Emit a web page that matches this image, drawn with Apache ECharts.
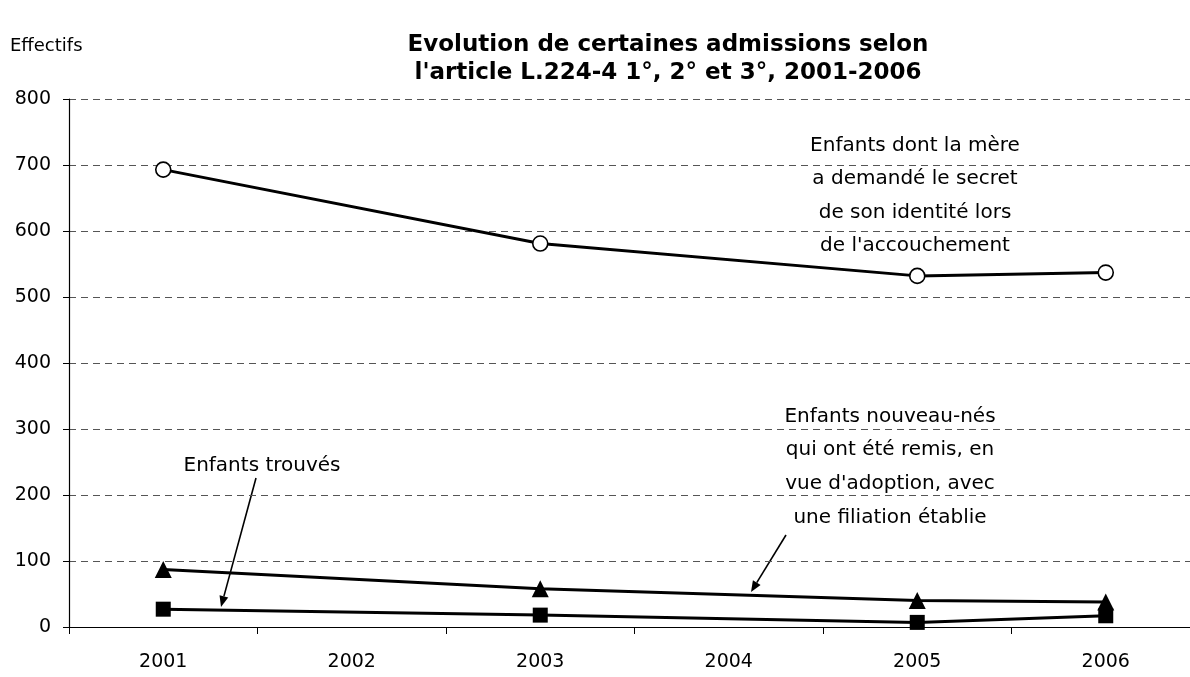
<!DOCTYPE html>
<html>
<head>
<meta charset="utf-8">
<script src="https://cdn.jsdelivr.net/npm/echarts@6/dist/echarts.min.js"></script>
<style>html,body{margin:0;padding:0;background:#fff;overflow:hidden;}#c{width:1200px;height:677px;}</style>
</head>
<body>
<div id="c"></div>
<script>
const categories = ['2001', '2002', '2003', '2004', '2005', '2006'];
const secretMere = [693, null, 581, null, 532, 537];
const nouveauNes = [87, null, 58, null, 40, 38];
const trouves = [27, null, 18, null, 7, 17];
const yTicks = { min: 0, max: 800, interval: 100 };

const titleLines = ["Evolution de certaines admissions selon", "l'article L.224-4 1°, 2° et 3°, 2001-2006"];
const yName = 'Effectifs';
const noteSecret = ["Enfants dont la mère", "a demandé le secret", "de son identité lors", "de l'accouchement"];
const noteNes = ["Enfants nouveau-nés", "qui ont été remis, en", "vue d'adoption, avec", "une filiation établie"];
const noteTrouves = ["Enfants trouvés"];

const FONT = "'Comic Sans MS', 'DejaVu Sans', sans-serif";

function arrow(x1, y1, x2, y2) {
  const ang = Math.atan2(y2 - y1, x2 - x1);
  const L = 11, W = 4.5;
  const bx = x2 - L * Math.cos(ang), by = y2 - L * Math.sin(ang);
  const px = -Math.sin(ang) * W, py = Math.cos(ang) * W;
  return [
    { type: 'line', shape: { x1: x1, y1: y1, x2: bx, y2: by }, style: { stroke: '#000', lineWidth: 1.6 } },
    { type: 'polygon', shape: { points: [[x2, y2], [bx + px, by + py], [bx - px, by - py]] }, style: { fill: '#000' } }
  ];
}

const chart = echarts.init(document.getElementById('c'), null, { renderer: 'canvas', width: 1200, height: 677 });
const option = {
  backgroundColor: '#fff',
  animation: false,
  grid: { left: 69, top: 99, width: 1131, height: 528, containLabel: false },
  xAxis: {
    type: 'category',
    data: categories,
    boundaryGap: true,
    axisLine: { show: true, lineStyle: { color: '#000', width: 1.2 } },
    axisTick: { show: true, length: 7, interval: 0, lineStyle: { color: '#000', width: 1 } },
    axisLabel: { color: '#000', fontSize: 19, fontFamily: FONT, margin: 26 },
    splitLine: { show: false }
  },
  yAxis: {
    type: 'value',
    min: yTicks.min, max: yTicks.max, interval: yTicks.interval,
    axisLine: { show: true, lineStyle: { color: '#000', width: 1.2 } },
    axisTick: { show: true, length: 6, lineStyle: { color: '#000' } },
    axisLabel: { color: '#000', fontSize: 19, fontFamily: FONT, margin: 18 },
    splitLine: { show: true, lineStyle: { color: '#555', width: 1, type: [7, 5] } }
  },
  series: [
    {
      type: 'line', data: secretMere, connectNulls: true,
      symbol: 'circle', symbolSize: 15, showSymbol: true,
      lineStyle: { color: '#000', width: 3 },
      itemStyle: { color: '#fff', borderColor: '#000', borderWidth: 1.6 },
      z: 3
    },
    {
      type: 'line', data: nouveauNes, connectNulls: true,
      symbol: 'triangle', symbolSize: 17,
      lineStyle: { color: '#000', width: 3 },
      itemStyle: { color: '#000' },
      z: 3
    },
    {
      type: 'line', data: trouves, connectNulls: true,
      symbol: 'rect', symbolSize: 15,
      lineStyle: { color: '#000', width: 3 },
      itemStyle: { color: '#000' },
      z: 3
    }
  ],
  graphic: [
    { type: 'text', x: 10, y: 46, style: { text: yName, textVerticalAlign: 'middle', fontSize: 18, fontFamily: FONT, fill: '#000' } },
    { type: 'text', x: 668, y: 59, style: { text: titleLines.join('\n'), textAlign: 'center', textVerticalAlign: 'middle', fontSize: 23, fontWeight: 'bold', fontFamily: FONT, fill: '#000', lineHeight: 28 } },
    { type: 'text', x: 915, y: 196, style: { text: noteSecret.join('\n'), textAlign: 'center', textVerticalAlign: 'middle', fontSize: 20, fontFamily: FONT, fill: '#000', lineHeight: 33.5 } },
    { type: 'text', x: 890, y: 467, style: { text: noteNes.join('\n'), textAlign: 'center', textVerticalAlign: 'middle', fontSize: 20, fontFamily: FONT, fill: '#000', lineHeight: 33.7 } },
    { type: 'text', x: 262, y: 466, style: { text: noteTrouves.join('\n'), textAlign: 'center', textVerticalAlign: 'middle', fontSize: 20, fontFamily: FONT, fill: '#000' } }
  ].concat(arrow(256, 478, 221, 607)).concat(arrow(786, 535, 751, 592))
};
chart.setOption(option);
</script>
</body>
</html>
